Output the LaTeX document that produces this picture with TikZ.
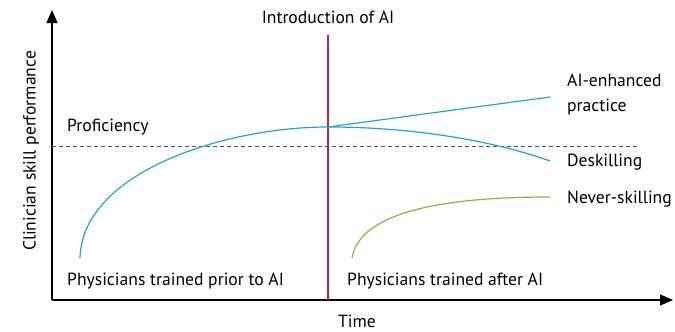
\documentclass[tikz,border=0pt]{standalone}
\usepackage{fontspec}
\setmainfont{PT Sans}
\usepackage{tikz}
\usetikzlibrary{arrows.meta}
\usetikzlibrary{positioning}
\definecolor{skillblue}{HTML}{2AA3C0}
\definecolor{neverg}{HTML}{7DBB42}
\definecolor{aired}{HTML}{B0284C}
\definecolor{profline}{HTML}{3D5A6C}
\newcommand{\lbl}[1]{\fontsize{17.6}{25}\selectfont #1}

\begin{document}
\begin{tikzpicture}[x=1pt,y=-1pt,
    axis/.style={line width=1.1pt,-{Triangle[length=13pt,width=11pt]}},
    curve/.style={line width=1.2pt,skillblue},
    txt/.style={inner sep=0pt,font=\lbl}]
  \useasboundingbox (0,0) rectangle (675,332);
  % axes
  \coordinate (o) at (52,300);
  \coordinate (ytop) at (52,10);
  \coordinate (xend) at (673,300);
  \draw[axis] (o) -- (ytop);
  \draw[axis] (o) -- (xend);
  % proficiency
  \coordinate (p0) at (52,146);
  \coordinate (p1) at (637,146);
  \draw[profline,line width=0.8pt,dash pattern=on 4pt off 3pt] (p0) -- (p1);
  % introduction of AI
  \coordinate (ai0) at (328,35);
  \coordinate (ai1) at (328,300);
  \draw[aired,line width=1.3pt] (ai0) -- (ai1);
  % curves
  \coordinate (pre) at (80,258);
  \coordinate (top) at (328,127);
  \coordinate (enh) at (550,97);
  \coordinate (desk) at (550,161);
  \coordinate (nev0) at (352,258);
  \coordinate (nev1) at (550,197);
  \draw[curve] (pre) .. controls (82,172) and (225,127) .. (top);
  \draw[curve] (top) -- (enh);
  \draw[curve] (top) .. controls (420,127) and (500,143) .. (desk);
  \draw[neverg,line width=1.2pt] (nev0) .. controls (360,210) and (450,197) .. (nev1);
  % labels
  \node[txt] (intro) at (328,17) {Introduction of AI};
  \node[txt,rotate=90] (yl) at (31,151) {Clinician skill performance};
  \node[txt] (time) at (357,321) {Time};
  \node[txt,anchor=west] (prof) at (67,127) {Proficiency};
  \node[txt,anchor=west,align=left] (lenh) at (567,95) {AI-enhanced\\practice};
  \node[txt,anchor=west] (ldesk) at (567,162) {Deskilling};
  \node[txt,anchor=west] (lnev) at (567,199) {Never-skilling};
  \node[txt,anchor=west] (lpre) at (67,281) {Physicians trained prior to AI};
  \node[txt,anchor=west] (lpost) at (347,281) {Physicians trained after AI};
\end{tikzpicture}
\end{document}
